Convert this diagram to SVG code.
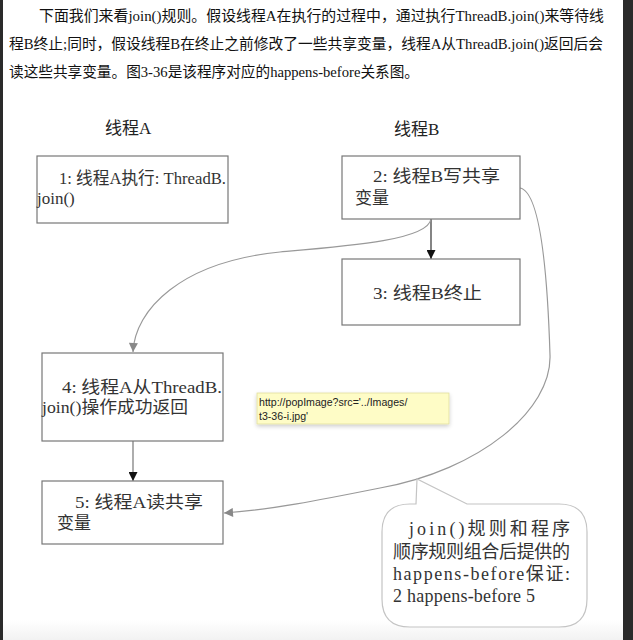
<svg xmlns="http://www.w3.org/2000/svg" width="633" height="640" viewBox="0 0 633 640">
<defs>
<style>
.para{font-family:"Liberation Serif","Noto Sans CJK SC",serif;font-size:15px;fill:#111}
.title{font-family:"Liberation Serif","Noto Sans CJK SC",serif;font-size:17px;fill:#222}
.box rect{fill:#fff;stroke:#777;stroke-width:1.2}
.lbl{font-family:"Liberation Serif","Noto Sans CJK SC",serif;font-size:17px;fill:#333}
.conn{fill:none;stroke-width:1.2}
.tip{font-family:"Liberation Sans",Arial,sans-serif;font-size:10.6px;fill:#222}
.note{font-family:"Liberation Serif","Noto Sans CJK SC",serif;font-size:18px;fill:#333}
</style>
<marker id="ahBlack" viewBox="0 0 10 10" refX="10" refY="5" markerWidth="10" markerHeight="9" markerUnits="userSpaceOnUse" orient="auto">
<path d="M0,0 L10,5 L0,10 Z" fill="#111"/>
</marker>
<marker id="ahGray" viewBox="0 0 10 10" refX="10" refY="5" markerWidth="10" markerHeight="9" markerUnits="userSpaceOnUse" orient="auto">
<path d="M0,0 L10,5 L0,10 Z" fill="#888"/>
</marker>
<linearGradient id="bottomFade" x1="0" y1="0" x2="0" y2="1">
<stop offset="0" stop-color="#fff"/>
<stop offset="1" stop-color="#f2f2f2"/>
</linearGradient>
<filter id="shadow" x="-10%" y="-30%" width="120%" height="170%">
<feGaussianBlur in="SourceAlpha" stdDeviation="2"/>
<feOffset dy="2"/>
<feComponentTransfer><feFuncA type="linear" slope="0.2"/></feComponentTransfer>
<feMerge><feMergeNode/><feMergeNode in="SourceGraphic"/></feMerge>
</filter>
</defs>

<rect x="0" y="0" width="633" height="640" fill="#fff"/>
<rect x="0" y="620" width="623" height="20" fill="url(#bottomFade)"/>
<rect x="0" y="0" width="3" height="640" fill="#2a2a2a"/>
<rect x="623" y="0" width="10" height="640" fill="#2a2a2a"/>

<g id="paragraph">
<text class="para" x="39" y="21" textLength="565" lengthAdjust="spacingAndGlyphs">下面我们来看join()规则。假设线程A在执行的过程中，通过执行ThreadB.join()来等待线</text>
<text class="para" x="9" y="49" textLength="594" lengthAdjust="spacingAndGlyphs">程B终止;同时，假设线程B在终止之前修改了一些共享变量，线程A从ThreadB.join()返回后会</text>
<text class="para" x="9" y="77" textLength="410" lengthAdjust="spacingAndGlyphs">读这些共享变量。图3-36是该程序对应的happens-before关系图。</text>
</g>

<g id="titleA"><text class="title" x="105" y="134">线程A</text></g>
<g id="titleB"><text class="title" x="394" y="135">线程B</text></g>

<g id="connectors">
<path class="conn" stroke="#333" d="M431,219 L431,259" marker-end="url(#ahBlack)"/>
<path class="conn" stroke="#777" d="M133,441 L133,481" marker-end="url(#ahBlack)"/>
<path class="conn" stroke="#999" d="M431,219 C428,240 350,246 280,252 C180,262 135,310 133,352" marker-end="url(#ahGray)"/>
<path class="conn" stroke="#999" d="M520,188 C542,192 548,290 550,355 C552,410 480,470 380,488 C320,500 270,510 224,513" marker-end="url(#ahGray)"/>
</g>

<g id="node1" class="box">
<rect x="37" y="156" width="191" height="67"/>
<text class="lbl" x="59" y="184" textLength="167" lengthAdjust="spacingAndGlyphs">1: 线程A执行: ThreadB.</text>
<text class="lbl" x="37" y="204">join()</text>
</g>

<g id="node2" class="box">
<rect x="342" y="156" width="178" height="63"/>
<text class="lbl" x="373" y="182" textLength="127" lengthAdjust="spacingAndGlyphs">2: 线程B写共享</text>
<text class="lbl" x="355" y="204">变量</text>
</g>

<g id="node3" class="box">
<rect x="342" y="259" width="178" height="66"/>
<text class="lbl" x="373" y="299" textLength="109" lengthAdjust="spacingAndGlyphs">3: 线程B终止</text>
</g>

<g id="node4" class="box">
<rect x="42" y="353" width="181" height="88"/>
<text class="lbl" x="62" y="393" textLength="160" lengthAdjust="spacingAndGlyphs">4: 线程A从ThreadB.</text>
<text class="lbl" x="42" y="413" textLength="146" lengthAdjust="spacingAndGlyphs">join()操作成功返回</text>
</g>

<g id="node5" class="box">
<rect x="42" y="481" width="181" height="63"/>
<text class="lbl" x="75" y="508" textLength="128" lengthAdjust="spacingAndGlyphs">5: 线程A读共享</text>
<text class="lbl" x="57" y="529">变量</text>
</g>

<g id="tooltip">
<rect x="257" y="393" width="192" height="31" fill="#fefcc6" stroke="#e2de9e" stroke-width="0.8" filter="url(#shadow)"/>
<text class="tip" x="259" y="406">http://popImage?src='../Images/</text>
<text class="tip" x="259" y="420">t3-36-i.jpg'</text>
</g>

<g id="note">
<path d="M416,504 L417,479 L467,504 L559,504 Q587,504 587,532 L587,599 Q587,627 559,627 L410,627 Q382,627 382,599 L382,532 Q382,504 410,504 Z" fill="#fff" stroke="#c4c4c4" stroke-width="1.2"/>
<text class="note" x="409" y="535" textLength="161" lengthAdjust="spacing">join()规则和程序</text>
<text class="note" x="393" y="558" textLength="177" lengthAdjust="spacing">顺序规则组合后提供的</text>
<text class="note" x="393" y="580" textLength="177" lengthAdjust="spacing">happens-before保证:</text>
<text class="note" x="393" y="602" textLength="142" lengthAdjust="spacing">2 happens-before 5</text>
</g>
</svg>
